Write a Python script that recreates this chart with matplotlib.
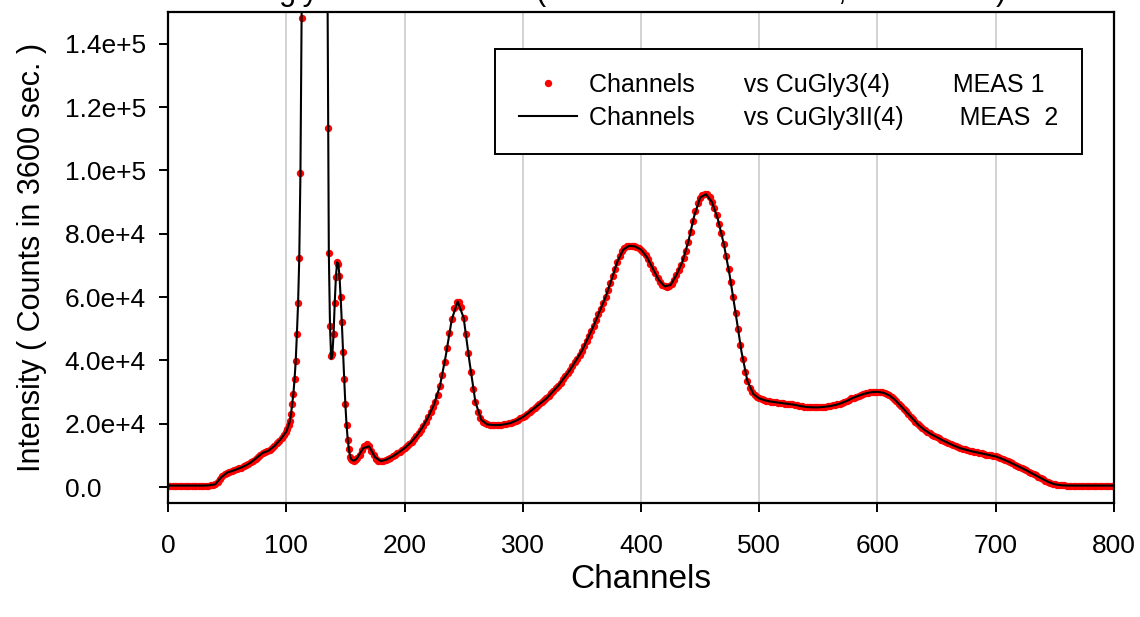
import numpy as np
import matplotlib
matplotlib.use("Agg")
import matplotlib.pyplot as plt
from matplotlib.lines import Line2D

plt.rcParams['font.family'] = ['Liberation Sans', 'DejaVu Sans']

# --- data ---
# MEAS 1 (red dots): every 2nd channel, every channel across the big peaks
ch_meas1 = np.concatenate([np.arange(0, 100, 2), np.arange(100, 161, 1), np.arange(162, 801, 2)])
meas1 = [
    # 0..98
    500, 500, 500, 500, 500, 500, 500, 500, 500, 500,
    500, 500, 500, 500, 500, 500, 500, 500, 550, 650,
    900, 1500, 2600, 3600, 4200, 4600, 4850, 5050, 5300, 5600,
    5900, 6200, 6550, 6900, 7300, 7800, 8300, 8900, 9600, 10300,
    10800, 11000, 11300, 11700, 12300, 13000, 13800, 14600, 15500, 16500,
    # 100..160
    17500, 18500, 19600, 20800, 23000, 26100, 29300, 34000, 39800, 48400,
    58000, 72300, 99200, 148000, 195000, 240000, 280000, 310000, 330000, 340000,
    345000, 340000, 330000, 320000, 310000, 300000, 295000, 290000, 285000, 280000,
    270000, 255000, 230000, 200000, 160000, 113400, 74000, 50800, 41300, 42000,
    48200, 58200, 66400, 71000, 70500, 66800, 60000, 52000, 42800, 34200,
    26100, 19600, 15000, 11900, 9600, 8800, 8500, 8400, 8500, 8800, 9200,
    # 162..800
    10000, 11600, 12900, 13500, 12900, 11500, 10000, 9000, 8400, 8200,
    8300, 8600, 8900, 9300, 9700, 10200, 10700, 11200, 11700, 12300,
    12900, 13600, 14400, 15200, 16100, 17100, 18200, 19400, 20700, 22100,
    23600, 25200, 27000, 29200, 32000, 35500, 39500, 44000, 48800, 53000,
    56500, 58400, 58600, 57000, 53500, 48500, 42500, 36500, 31000, 26800,
    23800, 21800, 20700, 20100, 19800, 19700, 19600, 19600, 19600, 19600,
    19700, 19800, 19900, 20100, 20300, 20600, 20900, 21300, 21700, 22100,
    22600, 23200, 23800, 24400, 25000, 25600, 26200, 26800, 27400, 28000,
    28800, 29600, 30400, 31200, 32000, 33000, 34000, 35000, 36000, 37000,
    38200, 39400, 40600, 41800, 43000, 44600, 46200, 47800, 49400, 51000,
    52800, 54600, 56400, 58200, 60000, 62200, 64400, 66700, 69000, 71200,
    73000, 74500, 75500, 76000, 76200, 76200, 76100, 75900, 75500, 75000,
    74200, 73200, 72000, 70600, 69000, 67500, 66000, 64800, 63900, 63400,
    63200, 63400, 64200, 65500, 67000, 68500, 70200, 72200, 74700, 77500,
    80700, 84000, 87200, 89800, 91400, 92300, 92600, 92400, 91500, 90000,
    88200, 86000, 83200, 80200, 76800, 73000, 69000, 64800, 60000, 55000,
    50000, 45000, 40500, 36500, 33500, 31300, 29900, 29000, 28400, 28000,
    27700, 27500, 27300, 27100, 27000, 26900, 26800, 26700, 26600, 26500,
    26400, 26300, 26200, 26100, 26000, 25800, 25700, 25500, 25400, 25300,
    25200, 25200, 25200, 25200, 25200, 25200, 25300, 25400, 25500, 25600,
    25800, 25900, 26100, 26300, 26600, 26900, 27200, 27600, 28000, 28300,
    28600, 28900, 29200, 29400, 29600, 29800, 29900, 30000, 30100, 30100,
    30100, 29900, 29700, 29400, 29000, 28500, 27900, 27200, 26400, 25500,
    24700, 23900, 23100, 22300, 21500, 20700, 19900, 19200, 18600, 18000,
    17500, 17000, 16600, 16200, 15800, 15400, 15000, 14600, 14200, 13900,
    13500, 13200, 12900, 12600, 12300, 12100, 11900, 11700, 11500, 11300,
    11100, 11000, 10800, 10700, 10500, 10300, 10200, 10000, 9900, 9700,
    9400, 9100, 8800, 8500, 8200, 7800, 7500, 7100, 6800, 6400,
    6000, 5700, 5300, 4900, 4500, 4100, 3700, 3300, 2900, 2500,
    2100, 1700, 1400, 1100, 900, 750, 650, 580, 540, 520,
    500, 500, 500, 500, 500, 500, 500, 500, 500, 500,
    500, 500, 500, 500, 500, 500, 500, 500, 500, 500,
]

# MEAS 2 (black line): every 5th channel, every channel across the big peaks
ch_meas2 = np.concatenate([np.arange(0, 100, 5), np.arange(100, 161, 1), np.arange(165, 801, 5)])
meas2 = [
    500, 500, 500, 500, 500, 500, 500, 600, 900, 3100,
    4600, 5200, 5900, 6700, 7800, 9300, 10800, 11500, 13000, 15000,
    # 100..160
    17500, 18500, 19600, 20800, 23000, 26100, 29300, 34000, 39800, 48400,
    58000, 72300, 99200, 150000, 200000, 245000, 285000, 315000, 335000, 345000,
    350000, 345000, 335000, 325000, 315000, 305000, 300000, 295000, 290000, 285000,
    275000, 260000, 240000, 215000, 185000, 150000, 74000, 50800, 40500, 42000,
    48200, 58200, 66400, 71000, 70500, 66800, 60000, 52000, 42800, 34200,
    26100, 19600, 15000, 11900, 9600, 8800, 8500, 8400, 8500, 8800, 9200,
    # 165..800
    12300, 12900, 9500, 8200, 8750, 9700, 10950, 12300, 14000, 16100,
    18800, 22100, 26100, 32000, 41700, 53000, 58600, 53500, 39500, 26800,
    21200, 19800, 19600, 19600, 19850, 20300, 21100, 22100, 23500, 25000,
    26500, 28000, 30000, 32000, 34500, 37000, 40000, 43000, 47000, 51000,
    55500, 60000, 65500, 71200, 75000, 76200, 76000, 75000, 72600, 69000,
    65400, 63400, 63800, 67000, 71200, 77500, 85600, 91400, 92500, 90000,
    84600, 76800, 66900, 55000, 42700, 33500, 29400, 28000, 27400, 27000,
    26750, 26500, 26250, 26000, 25600, 25300, 25200, 25200, 25350, 25600,
    26000, 26600, 27400, 28300, 29000, 29600, 30000, 30100, 29800, 29000,
    27500, 25500, 23500, 21500, 19500, 18000, 16800, 15800, 14800, 13900,
    13050, 12300, 11800, 11300, 10900, 10500, 10100, 9700, 9000, 8200,
    7300, 6400, 5500, 4500, 3500, 2500, 1550, 900, 620, 520,
    500, 500, 500, 500, 500, 500, 500, 500,
]

xticks = [0, 100, 200, 300, 400, 500, 600, 700, 800]
yticks = [0, 20000, 40000, 60000, 80000, 100000, 120000, 140000]
ytick_labels = ["0.0", "2.0e+4", "4.0e+4", "6.0e+4", "8.0e+4", "1.0e+5", "1.2e+5", "1.4e+5"]

legend_labels = ["Channels       vs CuGly3(4)         MEAS 1",
                 "Channels       vs CuGly3II(4)        MEAS  2"]
title = "Cu - glycine in solution  (MEAS 1 and MEAS 2,  3600 sec.)"

assert len(meas1) == len(ch_meas1), (len(meas1), len(ch_meas1))
assert len(meas2) == len(ch_meas2), (len(meas2), len(ch_meas2))

# --- plotting ---
fig = plt.figure(figsize=(11.4, 6.17), dpi=100)
ax = fig.add_axes([0.14737, 0.18476, 0.82982, 0.79579])

for x in xticks[1:-1]:
    ax.axvline(x, color='#c8c8c8', lw=1.1, zorder=0)

ax.plot(ch_meas1, meas1, 'o', color='red', ms=5.3, mew=0, zorder=2)
ax.plot(ch_meas2, meas2, '-', color='black', lw=1.5, zorder=3)

ax.set_xlim(0, 800)
ax.set_ylim(-5000, 150000)
ax.set_xticks(xticks)
ax.set_yticks(yticks, labels=ytick_labels)
for lbl in ax.get_yticklabels():
    lbl.set_horizontalalignment('left')

ax.tick_params(axis='both', direction='out', length=6.5, width=1.4, labelsize=19)
ax.tick_params(axis='y', pad=68)
ax.tick_params(axis='x', pad=15.5)
for sp in ax.spines.values():
    sp.set_linewidth(1.6)

ax.set_xlabel("Channels", fontsize=24)
ax.set_ylabel("Intensity ( Counts in 3600 sec. )", fontsize=22)
ax.xaxis.set_label_coords(0.5, -0.125)
ax.yaxis.set_label_coords(-0.128, 0.5)

handles = [Line2D([], [], ls='none', marker='o', color='red', ms=5.3, mew=0),
           Line2D([], [], color='black', lw=1.5)]
leg = ax.legend(handles, legend_labels, loc='upper right',
                bbox_to_anchor=(1082 / 1140, 1 - 49 / 617), bbox_transform=fig.transFigure,
                borderaxespad=0, fontsize=18, frameon=True, fancybox=False, framealpha=1,
                handlelength=2.3, handletextpad=0.5, labelspacing=0.36, borderpad=0.95)
leg.get_frame().set_edgecolor('black')
leg.get_frame().set_linewidth(1.4)

fig.text(0.535, 0.9995, title, fontsize=22, ha='center', va='baseline')

fig.savefig("out.png", dpi=100)
